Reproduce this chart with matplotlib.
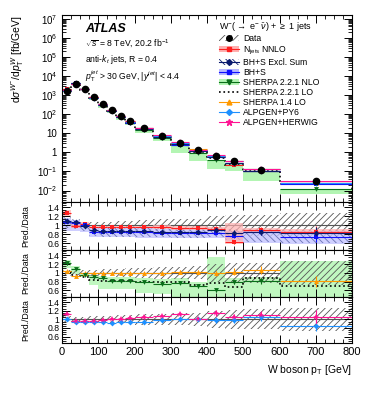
import numpy as np
import matplotlib
matplotlib.use("Agg")
import matplotlib.pyplot as plt
from matplotlib.patches import Patch
from matplotlib.lines import Line2D
from matplotlib.ticker import FixedLocator, MultipleLocator, FuncFormatter, NullFormatter

plt.rcParams['font.family'] = ['Liberation Sans', 'DejaVu Sans']
plt.rcParams['mathtext.fontset'] = 'custom'
plt.rcParams['mathtext.rm'] = 'Liberation Sans'
plt.rcParams['mathtext.it'] = 'Liberation Sans:italic'
plt.rcParams['mathtext.bf'] = 'Liberation Sans:bold'
plt.rcParams['hatch.linewidth'] = 0.6

# bin edges in W pT [GeV]
edges = [0, 25, 50, 75, 100, 125, 150, 175, 200, 250, 300, 350, 400, 450, 500, 600, 800]

# measured cross section [fb/GeV] and relative total uncertainty
data_xs = [1700, 4000, 2100, 800, 355, 175, 83, 42, 19, 7.3, 3.1, 1.4, 0.67, 0.34, 0.126, 0.030]
data_unc = [0.07, 0.06, 0.06, 0.07, 0.08, 0.08, 0.09, 0.10, 0.12, 0.13, 0.14, 0.15, 0.20, 0.22, 0.23, 0.27]

# predictions as ratio to data
nnlo = [1.28, 0.99, 1.03, 0.96, 0.96, 0.96, 0.96, 0.96, 0.96, 0.96, 0.94, 0.94, 0.92, 0.62, 0.89, 0.86]
nnlo_lo = [1.20, 0.95, 0.99, 0.93, 0.93, 0.93, 0.93, 0.93, 0.93, 0.92, 0.90, 0.90, 0.88, 0.59, 0.84, 0.81]
nnlo_hi = [1.35, 1.03, 1.07, 0.99, 0.99, 0.99, 0.99, 0.99, 0.99, 1.00, 0.98, 0.98, 0.96, 1.05, 0.94, 0.91]

bhs_excl = [1.10, 1.07, 0.99, 0.89, 0.88, 0.88, 0.88, 0.88, 0.87, 0.86, 0.85, 0.85, 0.89, 0.83, 0.86, 0.83]
excl_lo = [0.95, 0.92, 0.88, 0.76, 0.75, 0.75, 0.75, 0.75, 0.74, 0.73, 0.72, 0.72, 0.74, 0.68, 0.62, 0.60]
excl_hi = [1.18, 1.14, 1.06, 0.96, 0.95, 0.95, 0.95, 0.95, 0.94, 0.93, 0.93, 0.93, 0.96, 0.92, 0.92, 0.90]

bhs = [1.08, 1.05, 1.00, 0.86, 0.86, 0.86, 0.86, 0.86, 0.85, 0.84, 0.83, 0.83, 0.83, 0.77, 0.85, 0.74]
bhs_lo = [0.88, 0.88, 0.86, 0.73, 0.73, 0.73, 0.73, 0.73, 0.72, 0.72, 0.71, 0.71, 0.71, 0.66, 0.60, 0.58]
bhs_hi = [1.16, 1.12, 1.05, 0.94, 0.94, 0.94, 0.94, 0.94, 0.93, 0.92, 0.92, 0.92, 0.92, 0.88, 0.90, 0.88]

sherpa_nlo = [1.22, 1.08, 0.96, 0.90, 0.88, 0.82, 0.82, 0.82, 0.80, 0.74, 0.78, 0.69, 0.60, 0.79, 0.82, 0.40]
nlo_lo = [1.10, 0.98, 0.90, 0.72, 0.63, 0.63, 0.63, 0.63, 0.55, 0.52, 0.30, 0.25, 0.20, 0.30, 0.24, 0.23]
nlo_hi = [1.30, 1.15, 1.00, 0.95, 0.93, 0.90, 0.90, 0.90, 0.88, 0.85, 0.88, 0.80, 1.37, 0.88, 0.90, 1.26]

sherpa_lo = [1.02, 0.94, 0.90, 0.84, 0.82, 0.82, 0.82, 0.82, 0.80, 0.80, 0.80, 0.73, 0.77, 0.68, 0.88, 0.70]
sherpa14 = [1.04, 0.92, 1.00, 1.00, 1.00, 1.00, 1.00, 1.00, 1.00, 1.00, 1.02, 1.02, 0.99, 1.03, 1.06, 0.81]
alpgen_py6 = [1.00, 0.95, 0.95, 0.93, 0.93, 0.92, 0.93, 0.93, 0.95, 0.98, 1.00, 1.01, 0.98, 0.98, 1.05, 0.85]
alpgen_hw = [1.13, 0.96, 0.96, 0.96, 0.98, 1.00, 1.01, 1.03, 1.05, 1.08, 1.12, 1.00, 1.15, 1.06, 1.10, 1.05]

# statistical uncertainty of the predictions (relative)
pred_stat = [0.03, 0.02, 0.02, 0.02, 0.02, 0.02, 0.03, 0.03, 0.03, 0.03, 0.04, 0.04, 0.06, 0.07, 0.08, 0.15]

# axis tick values
log_ticks = [1e-2, 1e-1, 1, 10, 1e2, 1e3, 1e4, 1e5, 1e6, 1e7]
ratio_ticks = [0.6, 0.8, 1.0, 1.2, 1.4]

edges = np.array(edges, dtype=float)
centers = 0.5 * (edges[1:] + edges[:-1])
widths = np.diff(edges)
half = widths / 2
data_xs = np.array(data_xs)
data_unc = np.array(data_unc)

C_RED = "#ff2020"
C_NAVY = "#0a1a6e"
C_BLUE = "#1010ff"
C_GREEN = "#0a6e1a"
C_ORANGE = "#ff9900"
C_LBLUE = "#1e90ff"
C_PINK = "#ff1493"

fig = plt.figure(figsize=(3.74, 3.96), dpi=100)
L, R = 62 / 374, 352 / 374
def yfrac(px):
    return 1 - px / 396
ax0 = fig.add_axes([L, yfrac(202), R - L, yfrac(15) - yfrac(202)])
ax1 = fig.add_axes([L, yfrac(250), R - L, yfrac(202) - yfrac(250)], sharex=ax0)
ax2 = fig.add_axes([L, yfrac(297), R - L, yfrac(250) - yfrac(297)], sharex=ax0)
ax3 = fig.add_axes([L, yfrac(343), R - L, yfrac(297) - yfrac(343)], sharex=ax0)


def band(ax, lo, hi, scale=1.0, **kw):
    lo = np.array(lo) * scale
    hi = np.array(hi) * scale
    ax.bar(centers, hi - lo, width=widths, bottom=lo, align='center', linewidth=0, **kw)


def points(ax, vals, scale, color, marker, ms, err=True):
    v = np.array(vals) * scale
    yerr = np.array(pred_stat) * v if err else None
    ax.errorbar(centers, v, xerr=half, yerr=yerr, fmt=marker, color=color,
                ms=ms, lw=0.8, capsize=0, mew=0)


def data_band(ax):
    band(ax, 1 - data_unc, 1 + data_unc, facecolor='none',
         edgecolor='#555555', hatch='/////')


# ---- main panel
band(ax0, nlo_lo, sherpa_nlo, scale=data_xs, color='#b3f5b3')
ax0.stairs(np.array(sherpa_lo) * data_xs, edges, color='black', ls=':', lw=1.2)
points(ax0, sherpa_nlo, data_xs, C_GREEN, 'v', 3.5, err=False)
points(ax0, sherpa14, data_xs, C_ORANGE, '^', 3.5, err=False)
points(ax0, nnlo, data_xs, C_RED, 's', 3.5, err=False)
points(ax0, bhs, data_xs, C_BLUE, 's', 3.5, err=False)
points(ax0, bhs_excl, data_xs, C_NAVY, 'D', 3, err=False)
points(ax0, alpgen_py6, data_xs, C_LBLUE, 'D', 3, err=False)
points(ax0, alpgen_hw, data_xs, C_PINK, '*', 4.5, err=False)
ax0.errorbar(centers, data_xs, yerr=0.02 * data_xs, fmt='o', color='black', ms=4.5, lw=0.8, capsize=0)
ax0.set_yscale('log')
ax0.set_ylim(2.5e-3, 1.6e7)
ax0.yaxis.set_major_locator(FixedLocator(log_ticks))
ax0.yaxis.set_minor_locator(FixedLocator([m * t for t in [1e-3] + log_ticks for m in range(2, 10)
                                          if 2.5e-3 <= m * t <= 1.6e7]))
ax0.yaxis.set_minor_formatter(NullFormatter())
def logfmt(v, pos):
    e = int(round(np.log10(v)))
    if e == 0:
        return "1"
    if e == 1:
        return "10"
    return r"$10^{%d}$" % e
ax0.yaxis.set_major_formatter(FuncFormatter(logfmt))
ax0.set_ylabel(r"d$\sigma^{W^{-}}$/d$p_{\rm T}^{W}$ [fb/GeV]", fontsize=7.5, loc='top')
ax0.yaxis.set_label_coords(-0.125, 1.0)

ax0.text(0.08, 0.925, "ATLAS", transform=ax0.transAxes, fontsize=9,
         fontweight='bold', fontstyle='italic', va='center')
ax0.text(0.08, 0.845, r"$\sqrt{s}$ = 8 TeV, 20.2 fb$^{-1}$", transform=ax0.transAxes,
         fontsize=6.2, va='center')
ax0.text(0.08, 0.76, r"anti-$k_{t}$ jets, R = 0.4", transform=ax0.transAxes,
         fontsize=6.2, va='center')
ax0.text(0.08, 0.675, r"$p_{\rm T}^{jet}$ > 30 GeV, |$y^{jet}$| < 4.4", transform=ax0.transAxes,
         fontsize=6.2, va='center')

handles = [
    (Patch(facecolor='none', edgecolor='#555555', hatch='/////', lw=0),
     Line2D([], [], marker='o', color='black', ms=4, ls='none')),
    (Patch(facecolor='#ffb0b0', edgecolor='none'),
     Line2D([], [], marker='s', color=C_RED, ms=3.5, lw=0.8)),
    (Patch(facecolor='none', edgecolor=C_NAVY, hatch='\\\\\\\\\\', lw=0),
     Line2D([], [], marker='D', color=C_NAVY, ms=3, lw=0.8)),
    (Patch(facecolor='#b8b8ff', edgecolor='none'),
     Line2D([], [], marker='s', color=C_BLUE, ms=3.5, lw=0.8)),
    (Patch(facecolor='#b3f5b3', edgecolor='none'),
     Line2D([], [], marker='v', color=C_GREEN, ms=3.5, lw=0.8)),
    Line2D([], [], color='black', ls=':', lw=1.2),
    Line2D([], [], marker='^', color=C_ORANGE, ms=3.5, lw=0.8),
    Line2D([], [], marker='D', color=C_LBLUE, ms=3, lw=0.8),
    Line2D([], [], marker='*', color=C_PINK, ms=4.5, lw=0.8),
]
labels = ["Data", r"N$_{\rm jets}$ NNLO", "BH+S Excl. Sum", "BH+S", "SHERPA 2.2.1 NLO",
          "SHERPA 2.2.1 LO", "SHERPA 1.4 LO", "ALPGEN+PY6", "ALPGEN+HERWIG"]
leg = ax0.legend(handles, labels, loc='upper left', bbox_to_anchor=(0.53, 0.99),
                 frameon=False, fontsize=6.2, handlelength=2.3, handletextpad=0.5,
                 labelspacing=0.13, borderaxespad=0,
                 title=r"W$^{-}$($\rightarrow$ e$^{-}$ $\bar{\nu}$) + $\geq$ 1 jets", title_fontsize=6.5)
leg._legend_box.align = "left"

# ---- ratio panel 1
data_band(ax1)
band(ax1, bhs_lo, bhs_hi, color='#c4c4ff', alpha=0.8)
band(ax1, excl_lo, excl_hi, facecolor='none', edgecolor=C_NAVY, hatch='\\\\\\\\\\', alpha=0.5)
band(ax1, nnlo_lo, nnlo_hi, color='#ffb0b0', alpha=0.7)
points(ax1, nnlo, 1.0, C_RED, 's', 3.5)
points(ax1, bhs, 1.0, C_BLUE, 's', 3.5)
points(ax1, bhs_excl, 1.0, C_NAVY, 'D', 3)

# ---- ratio panel 2
band(ax2, nlo_lo, nlo_hi, color='#c0f7c0')
data_band(ax2)
ax2.stairs(sherpa_lo, edges, color='black', ls=':', lw=1.2)
points(ax2, sherpa14, 1.0, C_ORANGE, '^', 3.5)
points(ax2, sherpa_nlo, 1.0, C_GREEN, 'v', 3.5)

# ---- ratio panel 3
data_band(ax3)
points(ax3, alpgen_py6, 1.0, C_LBLUE, 'D', 3)
points(ax3, alpgen_hw, 1.0, C_PINK, '*', 5)

for ax in (ax0, ax1, ax2, ax3):
    ax.set_xlim(0, 800)
    ax.xaxis.set_major_locator(MultipleLocator(100))
    ax.xaxis.set_minor_locator(MultipleLocator(25))
    ax.tick_params(which='both', direction='in', top=True, right=True, labelsize=7)
    ax.tick_params(which='major', length=6, width=0.7)
    ax.tick_params(which='minor', length=3, width=0.6)
    for s in ax.spines.values():
        s.set_linewidth(0.8)
    if ax is not ax3:
        ax.tick_params(labelbottom=False)

for ax in (ax1, ax2, ax3):
    ax.axhline(1.0, color='#555555', lw=0.8, zorder=0.5)
    ax.set_ylim(0.45, 1.52)
    ax.yaxis.set_major_locator(FixedLocator(ratio_ticks))
    ax.yaxis.set_major_formatter(FuncFormatter(lambda v, p: "%g" % round(v, 1)))
    ax.yaxis.set_minor_locator(MultipleLocator(0.05))
    ax.tick_params(axis='y', labelsize=6.2, pad=2)
    ax.set_ylabel("Pred./Data", fontsize=6.3)
    ax.yaxis.set_label_coords(-0.11, 0.5)

ax3.tick_params(axis='x', labelsize=8, pad=3)
ax3.set_xlabel(r"W boson p$_{\rm T}$ [GeV]", fontsize=7.5, loc='right')

fig.savefig("out.png", dpi=100)
